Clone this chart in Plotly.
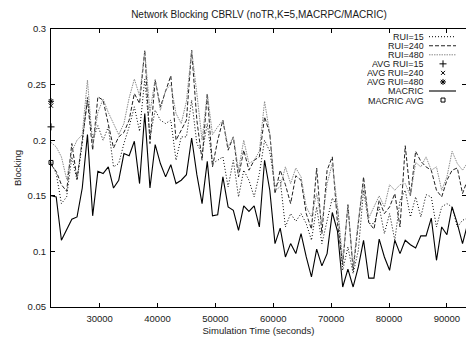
import plotly.graph_objects as go

# ---- data ----
times = [21600, 22500, 23400, 24300, 25200, 26100, 27000, 27900, 28800, 29700,
         30600, 31500, 32400, 33300, 34200, 35100, 36000, 36900, 37800, 38700,
         39600, 40500, 41400, 42300, 43200, 44100, 45000, 45900, 46800, 47700,
         48600, 49500, 50400, 51300, 52200, 53100, 54000, 54900, 55800, 56700,
         57600, 58500, 59400, 60300, 61200, 62100, 63000, 63900, 64800, 65700,
         66600, 67500, 68400, 69300, 70200, 71100, 72000, 72900, 73800, 74700,
         75600, 76500, 77400, 78300, 79200, 80100, 81000, 81900, 82800, 83700,
         84600, 85500, 86400, 87300, 88200, 89100, 90000, 90900, 91800, 92700,
         93600]

rui15 = [0.180, 0.170, 0.143, 0.149, 0.185, 0.164, 0.197, 0.239, 0.200, 0.213,
         0.200, 0.212, 0.176, 0.179, 0.197, 0.212, 0.230, 0.208, 0.255, 0.203,
         0.227, 0.218, 0.215, 0.218, 0.182, 0.203, 0.203, 0.236, 0.197, 0.188,
         0.215, 0.179, 0.182, 0.185, 0.158, 0.182, 0.149, 0.173, 0.164, 0.149,
         0.170, 0.200, 0.190, 0.158, 0.164, 0.122, 0.134, 0.127, 0.134, 0.125,
         0.110, 0.140, 0.107, 0.128, 0.148, 0.140, 0.083, 0.104, 0.080, 0.101,
         0.155, 0.125, 0.125, 0.140, 0.116, 0.134, 0.110, 0.146, 0.155, 0.131,
         0.149, 0.131, 0.151, 0.149, 0.122, 0.140, 0.143, 0.140, 0.122, 0.128,
         0.130]

rui240 = [0.178, 0.172, 0.160, 0.154, 0.197, 0.165, 0.200, 0.236, 0.191, 0.239,
          0.236, 0.215, 0.193, 0.203, 0.207, 0.218, 0.242, 0.233, 0.281, 0.197,
          0.254, 0.230, 0.245, 0.258, 0.200, 0.209, 0.218, 0.281, 0.218, 0.182,
          0.242, 0.176, 0.200, 0.218, 0.191, 0.203, 0.167, 0.191, 0.173, 0.182,
          0.185, 0.221, 0.206, 0.152, 0.173, 0.160, 0.143, 0.168, 0.164, 0.134,
          0.120, 0.175, 0.116, 0.173, 0.185, 0.125, 0.088, 0.142, 0.083, 0.125,
          0.167, 0.126, 0.120, 0.146, 0.134, 0.140, 0.152, 0.122, 0.195, 0.150,
          0.190, 0.181, 0.176, 0.173, 0.155, 0.149, 0.164, 0.173, 0.175, 0.152,
          0.165]

rui480 = [0.198, 0.194, 0.185, 0.165, 0.190, 0.200, 0.205, 0.254, 0.195, 0.225,
          0.237, 0.225, 0.215, 0.205, 0.215, 0.238, 0.255, 0.240, 0.280, 0.225,
          0.255, 0.227, 0.245, 0.250, 0.224, 0.215, 0.235, 0.281, 0.242, 0.200,
          0.242, 0.205, 0.212, 0.218, 0.194, 0.203, 0.173, 0.200, 0.179, 0.182,
          0.190, 0.235, 0.206, 0.155, 0.158, 0.176, 0.161, 0.175, 0.167, 0.140,
          0.131, 0.152, 0.125, 0.161, 0.179, 0.140, 0.092, 0.140, 0.086, 0.128,
          0.161, 0.130, 0.140, 0.150, 0.140, 0.160, 0.155, 0.160, 0.161, 0.150,
          0.180, 0.176, 0.185, 0.173, 0.176, 0.155, 0.167, 0.190, 0.179, 0.173,
          0.180]

macric = [0.150, 0.149, 0.110, 0.119, 0.129, 0.131, 0.157, 0.205, 0.132, 0.172,
          0.170, 0.176, 0.157, 0.164, 0.188, 0.186, 0.199, 0.161, 0.224, 0.157,
          0.196, 0.179, 0.167, 0.178, 0.161, 0.164, 0.169, 0.202, 0.169, 0.143,
          0.181, 0.132, 0.133, 0.167, 0.140, 0.137, 0.119, 0.141, 0.136, 0.141,
          0.122, 0.182, 0.155, 0.107, 0.121, 0.095, 0.107, 0.098, 0.116, 0.095,
          0.077, 0.102, 0.087, 0.098, 0.135, 0.118, 0.068, 0.084, 0.068, 0.086,
          0.110, 0.076, 0.076, 0.111, 0.095, 0.083, 0.110, 0.098, 0.110, 0.106,
          0.103, 0.114, 0.114, 0.130, 0.092, 0.122, 0.115, 0.140, 0.125, 0.107,
          0.125]

avg_time = 21600
avg_rui15 = 0.212
avg_rui240 = 0.231
avg_rui480 = 0.235
avg_macric = 0.180

x_ticks = [30000, 40000, 50000, 60000, 70000, 80000, 90000]
y_ticks = [0.05, 0.1, 0.15, 0.2, 0.25, 0.3]
y_tick_text = ["0.05", "0.1", "0.15", "0.2", "0.25", "0.3"]

legend_names = ["RUI=15", "RUI=240", "RUI=480", "AVG RUI=15", "AVG RUI=240",
                "AVG RUI=480", "MACRIC", "MACRIC AVG"]

# ---- styles ----
FONT = "Liberation Sans, Arial, Helvetica, sans-serif"
TXT = "#1a1a1a"
styles = {
    "RUI=15": dict(color="black", width=1, dash="1px,2px"),
    "RUI=240": dict(color="#222222", width=1, dash="4px,2px"),
    "RUI=480": dict(color="#8a8a8a", width=1, dash="1.5px,1px"),
    "MACRIC": dict(color="black", width=1.1),
}

fig = go.Figure()

series = [("RUI=15", rui15), ("RUI=240", rui240), ("RUI=480", rui480)]
for name, vals in series:
    fig.add_trace(go.Scatter(x=times, y=vals, mode="lines", name=name,
                             line=styles[name], showlegend=False))
fig.add_trace(go.Scatter(x=times, y=macric, mode="lines", name="MACRIC",
                         line=styles["MACRIC"], showlegend=False))

mk = dict(color="black", line=dict(color="black", width=1))
avg_marks = [
    (avg_rui15, "cross-thin", 5),
    (avg_rui240, "x-thin", 4),
    (avg_rui480, "asterisk", 5),
]
for val, sym, sz in avg_marks:
    fig.add_trace(go.Scatter(x=[avg_time], y=[val], mode="markers",
                             marker=dict(symbol=sym, size=sz, **mk),
                             cliponaxis=False, showlegend=False))
fig.add_trace(go.Scatter(x=[avg_time], y=[avg_macric], mode="markers",
                         marker=dict(symbol="square-open", size=4, **mk),
                         cliponaxis=False, showlegend=False))

# ---- gnuplot-style key (text right-aligned, sample on the right) ----
L, R, T, B = 51, 0, 29, 32
W, H = 466, 339
row0, rowstep = 36.7, 9.05
text_right = 425
samp_x0, samp_x1, samp_mid = 429, 456, 443

def px(xp):
    return (xp - L) / (W - L - R)

def py(yp):
    return 1 - (yp - T) / (H - T - B)

for k, name in enumerate(legend_names):
    yy = row0 + k * rowstep
    fig.add_annotation(x=px(text_right), y=py(yy), xref="paper", yref="paper",
                       text=name, showarrow=False, xanchor="right", yanchor="middle",
                       borderpad=0, height=9,
                       font=dict(family=FONT, size=9, color=TXT))

line_keys = {0: "RUI=15", 1: "RUI=240", 2: "RUI=480", 6: "MACRIC"}
for k, name in line_keys.items():
    yy = py(row0 + k * rowstep)
    fig.add_trace(go.Scatter(x=[px(samp_x0), px(samp_x1)], y=[yy, yy], mode="lines",
                             line=styles[name], xaxis="x2", yaxis="y2",
                             showlegend=False, hoverinfo="skip"))
mark_keys = {3: ("cross-thin", 5), 4: ("x-thin", 4), 5: ("asterisk", 5), 7: ("square-open", 4)}
for k, (sym, sz) in mark_keys.items():
    yy = py(row0 + k * rowstep)
    fig.add_trace(go.Scatter(x=[px(samp_mid)], y=[yy], mode="markers",
                             marker=dict(symbol=sym, size=sz, **mk),
                             xaxis="x2", yaxis="y2", showlegend=False,
                             hoverinfo="skip"))

axis_common = dict(showline=True, linecolor="black", linewidth=1, mirror="allticks",
                   ticks="inside", ticklen=4, tickcolor="black", tickwidth=1,
                   showgrid=False, zeroline=False,
                   tickfont=dict(family=FONT, size=9.5, color=TXT))

fig.update_layout(
    width=W, height=H,
    margin=dict(l=L, r=R, t=T, b=B, autoexpand=False),
    paper_bgcolor="white", plot_bgcolor="white",
    title=dict(text="Network Blocking CBRLV (noTR,K=5,MACRPC/MACRIC)",
               x=259 / W, xanchor="center",
               y=1 - 14 / H, yanchor="middle",
               font=dict(family=FONT, size=10, color=TXT)),
    xaxis=dict(range=[21600, 93300], tickvals=x_ticks,
               ticktext=[str(v) for v in x_ticks],
               title=dict(text="Simulation Time (seconds)", standoff=3,
                          font=dict(family=FONT, size=9.5, color=TXT)),
               ticklabelstandoff=3,
               **axis_common),
    yaxis=dict(range=[0.05, 0.3], tickvals=y_ticks, ticktext=y_tick_text,
               title=dict(text="Blocking", standoff=4,
                          font=dict(family=FONT, size=9.5, color=TXT)),
               ticklabelstandoff=2,
               **axis_common),
    xaxis2=dict(overlaying="x", range=[0, 1], visible=False, fixedrange=True),
    yaxis2=dict(overlaying="y", range=[0, 1], visible=False, fixedrange=True),
    showlegend=False,
)

fig.write_html("out.html", config={"displayModeBar": False},
               post_script="document.body.style.margin='0';document.body.style.overflow='hidden';")
